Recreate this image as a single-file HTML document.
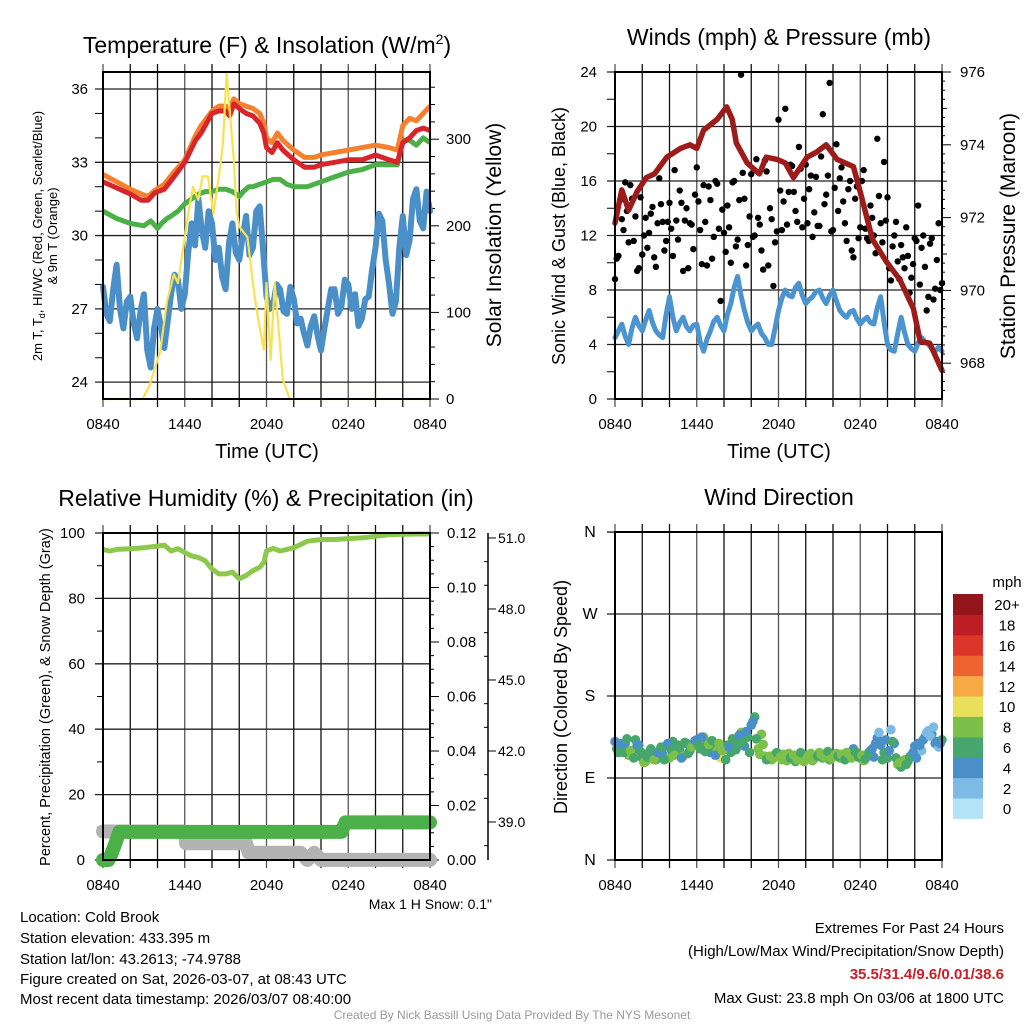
<!DOCTYPE html>
<html><head><meta charset="utf-8"><style>
html,body{margin:0;padding:0;background:#fff;}
svg{display:block;font-family:"Liberation Sans",sans-serif;}
text{fill:#000;}
</style></head><body>
<svg id="chart" width="1024" height="1024" viewBox="0 0 1024 1024" xmlns="http://www.w3.org/2000/svg">
<rect x="0" y="0" width="1024" height="1024" fill="#fff"/>
<g id="p1"></g>
<g id="p2"></g>
<g id="p3"></g>
<g id="p4"></g>
<g id="txt" font-size="15">
<text x="267" y="53" font-size="23" text-anchor="middle">Temperature (F) &amp; Insolation (W/m<tspan dy="-9" font-size="14">2</tspan><tspan dy="9">)</tspan></text>
<text x="779" y="45" font-size="23" text-anchor="middle">Winds (mph) &amp; Pressure (mb)</text>
<text x="266" y="506" font-size="23" text-anchor="middle">Relative Humidity (%) &amp; Precipitation (in)</text>
<text x="779" y="505" font-size="23" text-anchor="middle">Wind Direction</text>
<text x="267" y="458" font-size="20" text-anchor="middle">Time (UTC)</text>
<text x="779" y="458" font-size="20" text-anchor="middle">Time (UTC)</text>
<text transform="translate(42,236) rotate(-90)" font-size="13" text-anchor="middle">2m T, T<tspan dy="3" font-size="9">d</tspan><tspan dy="-3">, HI/WC (Red, Green, Scarlet/Blue)</tspan></text>
<text transform="translate(57,236) rotate(-90)" font-size="13" text-anchor="middle">&amp; 9m T (Orange)</text>
<text transform="translate(501,235) rotate(-90)" font-size="21" text-anchor="middle">Solar Insolation (Yellow)</text>
<text transform="translate(565,236) rotate(-90)" font-size="18" text-anchor="middle">Sonic Wind &amp; Gust (Blue, Black)</text>
<text transform="translate(1015,236) rotate(-90)" font-size="21" text-anchor="middle">Station Pressure (Maroon)</text>
<text transform="translate(50,697) rotate(-90)" font-size="14.5" text-anchor="middle">Percent, Precipitation (Green), &amp; Snow Depth (Gray)</text>
<text transform="translate(567,697) rotate(-90)" font-size="18" text-anchor="middle">Direction (Colored By Speed)</text>
<text x="492" y="909" font-size="14" text-anchor="end" fill="#222">Max 1 H Snow: 0.1"</text>
<text x="20" y="922">Location: Cold Brook</text>
<text x="20" y="943">Station elevation: 433.395 m</text>
<text x="20" y="964">Station lat/lon: 43.2613; -74.9788</text>
<text x="20" y="984">Figure created on Sat, 2026-03-07, at 08:43 UTC</text>
<text x="20" y="1004">Most recent data timestamp: 2026/03/07 08:40:00</text>
<text x="1004" y="933" text-anchor="end">Extremes For Past 24 Hours</text>
<text x="1004" y="956" text-anchor="end">(High/Low/Max Wind/Precipitation/Snow Depth)</text>
<text x="1004" y="979" text-anchor="end" font-weight="bold" style="fill:#c8202a">35.5/31.4/9.6/0.01/38.6</text>
<text x="1004" y="1003" text-anchor="end">Max Gust: 23.8 mph On 03/06 at 1800 UTC</text>
<text x="512" y="1019" font-size="12" text-anchor="middle" style="fill:#999">Created By Nick Bassill Using Data Provided By The NYS Mesonet</text>
</g>
</svg>
<script>
// ===== data =====
const timeLabels = ["0840","1440","2040","0240","0840"];
const tempTicks = [24,27,30,33,36];
const solarTicks = [0,100,200,300];
const windTicks = [0,4,8,12,16,20,24];
const presTicks = [968,970,972,974,976];
const rhTicks = [0,20,40,60,80,100];
const precipTicks = [0.00,0.02,0.04,0.06,0.08,0.10,0.12];
const snowTicks = [39.0,42.0,45.0,48.0,51.0];
const dirLabels = ["N","E","S","W","N"];
const dirTicks = [0,90,180,270,360];
const cbLabels = ["0","2","4","6","8","10","12","14","16","18","20+"];
const cbColors = ["#b3e3f7","#7dbbe4","#4a8fc8","#47a66b","#7cc04a","#e8e05a","#f6a945","#ee6430","#dc3529","#bd1e26","#921619"];

const tT = [0,1,2,2.8,3.3,3.8,4.5,5.2,6,6.8,7.2,8,8.5,9,9.3,9.6,10,10.5,11,11.5,11.8,12,12.4,12.8,13.2,14,14.8,15.5,16,17,18,19,20,21,21.6,22,22.5,23,23.5,24];
const redT = [32.2,31.95,31.7,31.45,31.45,31.75,31.9,32.4,33.0,33.9,34.2,35.0,35.1,35.1,34.9,35.4,35.2,35.0,34.9,34.6,34.2,33.6,33.4,33.8,33.5,33.1,32.8,32.8,32.9,33.0,33.1,33.1,33.3,33.1,33.0,33.8,34.0,34.3,34.4,34.3];
const orangeT = [32.5,32.2,31.9,31.7,31.6,31.85,32.1,32.6,33.1,34.1,34.5,35.1,35.3,35.3,35.2,35.6,35.4,35.3,35.2,35.0,34.6,34.0,33.8,34.2,33.9,33.5,33.2,33.2,33.3,33.4,33.5,33.6,33.7,33.6,33.5,34.5,34.8,34.7,35.0,35.3];
const gT = [0,1,2,3,3.5,4,4.3,4.7,5,5.5,6,6.5,7,7.5,8,8.5,9,9.5,10,10.3,10.7,11,12,12.5,13,13.5,14,15,16,17,18,19,20,21,21.6,22,22.5,23,23.5,24];
const greenT = [31.0,30.7,30.5,30.4,30.6,30.3,30.5,30.7,30.8,31.0,31.3,31.5,31.7,31.8,31.8,31.9,31.9,31.8,31.6,31.8,32.0,32.0,32.2,32.3,32.3,32.1,32.0,32.0,32.2,32.4,32.6,32.7,32.9,32.9,32.9,33.9,33.9,33.7,34.0,33.8];
const blueT = [27.9,26.8,26.5,27.8,28.8,27.0,26.2,27.3,27.5,26.4,
25.8,26.9,27.6,25.3,24.6,26.2,27.0,26.3,25.4,26.5,
27.6,28.4,28.2,27.0,27.6,29.3,30.5,29.6,31.5,30.2,
29.5,31.0,30.5,29.0,29.5,28.3,27.8,29.7,30.5,29.3,
29.0,30.0,30.8,29.2,29.5,31.0,31.2,29.4,27.5,27.0,
27.2,28.0,27.8,26.9,26.8,27.9,27.4,26.4,26.6,26.0,
25.5,26.3,26.7,25.9,25.3,26.2,27.0,27.8,27.8,26.8,
27.1,28.2,28.0,27.0,27.6,26.3,26.6,27.4,27.5,28.6,
29.5,30.9,30.6,29.0,28.0,26.8,27.3,29.5,30.8,29.2,
29.8,31.5,31.9,30.6,30.3,31.8,31.0];
const solarH = [0,2.9,3.4,4.2,4.7,5.2,5.5,5.9,6.3,6.6,7.0,7.3,7.7,8.1,8.6,8.8,9.07,9.3,9.6,9.8,10,10.6,11.1,11.4,11.8,12,12.3,12.6,13.2,13.7,24];
const solarV = [0,0,15,55,113,144,134,176,218,245,230,257,257,214,268,295,376,334,276,218,199,187,122,91,57,134,45,134,22,0,0];

const windV = [4.5,5.0,5.5,4.6,4,5.2,6,5.4,5,5.8,
6.5,5.6,5,4.7,4.5,6.2,7.5,6.0,5,5.6,
6,5.3,5,5.4,5.5,4.2,3.5,4.4,5,5.7,
6,5.4,5,6.2,7,8.2,9,7.6,6.5,5.6,
5,5.3,5.5,4.8,4.5,4.0,4,5.2,6.5,7.4,
8,7.6,7.5,8.2,8.5,7.6,7,7.3,7.5,7.9,
8,7.4,7,7.6,8,7.2,6.5,6.2,6,6.4,
6.5,5.9,5.5,5.8,6,5.6,5.5,6.7,7.5,5.6,
4,3.6,3.5,4.8,6,4.9,4,3.7,3.5,4.1,
4.5,4.2,4,3.7,3.5,3.8,3.5];
const gustV = [8.8,10.5,13.2,15.9,11.5,14.7,13.4,9.6,10.6,13.3,12.2,14.1,
9.7,16.2,13.0,11.6,14.4,10.5,13.1,15.3,9.4,14.0,12.9,11.0,
17.0,12.4,15.7,9.8,14.6,11.9,15.8,7.2,12.2,14.2,10.0,16.0,
11.7,23.8,14.7,11.3,16.5,12.0,13.3,10.9,17.5,9.8,13.2,11.5,
20.5,12.4,21.3,15.2,17.1,13.8,18.5,12.6,17.2,15.4,11.9,16.3,
12.7,20.9,15.0,23.2,12.4,18.7,16.2,14.5,11.6,16.0,10.4,15.6,
12.6,16.8,11.8,14.2,12.0,19.1,12.9,17.4,14.8,8.7,12.0,10.1,
11.3,9.6,10.5,8.9,11.8,14.2,11.1,9.7,7.5,11.8,8.1,12.9,8.5];
const gustV2 = [10.3,14.6,12.4,13.8,15.7,11.6,9.4,14.8,12.0,11.1,13.6,10.4,
12.9,14.3,10.9,13.0,12.5,16.8,11.7,14.4,13.1,9.6,12.8,15.0,
14.5,9.9,13.0,15.6,10.3,16.0,12.5,13.9,10.8,12.6,15.9,11.2,
14.6,16.6,9.8,13.4,11.9,17.6,12.8,9.5,16.7,14.0,8.3,12.3,
15.3,14.5,12.8,17.2,15.2,13.0,16.9,14.7,12.9,16.4,13.7,12.7,
17.8,14.3,16.4,12.3,15.5,13.8,17.0,12.9,15.4,10.9,14.7,11.8,
16.0,12.5,11.6,13.3,10.7,14.9,11.5,13.1,9.6,11.2,13.0,8.8,
10.4,12.6,7.8,9.9,11.6,8.4,12.0,6.5,11.4,7.3,10.2,8.0];
const presH = [0,0.5,1.0,1.6,2.3,2.9,3.8,4.8,5.5,6.0,6.5,7.5,8.2,8.6,8.9,9.7,10.6,11.1,11.9,12.5,13.1,14.1,14.8,15.5,16.3,17.5,18.0,18.9,19.9,20.9,21.9,22.4,23.1,24];
const presV = [971.85,972.76,972.2,972.7,973.1,973.2,973.66,973.9,974.0,973.9,974.4,974.7,975.04,974.7,974.05,973.5,973.2,973.66,973.6,973.5,973.1,973.66,973.8,974.0,973.6,973.4,972.7,971.4,970.8,970.3,969.5,968.6,968.55,967.8];

const rhH = [0,0.5,1,2,3,4,4.5,5,5.5,6,6.5,7,7.5,8,8.5,9,9.5,10,10.5,11,11.5,11.8,12,12.5,13,13.5,14,15,16,17,18,19,20,21,22,23,24];
const rhV = [95,94.5,95,95.2,95.5,96,96.3,94.5,95.2,94,93,92.5,91.5,89,87.5,87.5,88,86,87,88.5,89.5,91,94.5,95.3,94.5,95,95.5,97.5,98,98,98.3,98.5,99,99.5,99.6,99.7,99.7];
const precipH = [0,0.4,0.6,0.9,1.2,17.5,17.8,24];
const precipV = [0,0,0.002,0.006,0.0103,0.0103,0.0138,0.0138];
const snowH = [0,6,6.1,10.5,10.7,14.5,15,15.5,16,24];
const snowV = [38.6,38.6,38.1,38.1,37.7,37.7,37.4,37.7,37.4,37.4];

const dirV = [130,118,125,128,115,120,132,126,112,108,118,115,
110,120,116,125,112,130,118,122,114,128,120,126,
132,122,135,128,118,124,120,112,122,126,118,130,
128,140,125,135,148,157,122,138,114,112,110,116,
115,110,113,117,112,108,114,116,111,115,109,113,
118,112,116,110,114,117,112,115,118,113,122,117,
112,109,115,120,113,134,126,118,112,143,128,105,
102,110,108,115,125,128,120,135,142,138,128,124,132];
const dirSpd = [4,5,6,4,7,6,5,4,6,7,6,5,
5,7,4,6,7,5,4,6,7,5,4,5,
4,5,7,6,4,5,7,9,8,6,5,4,
5,7,4,5,4,5,7,8,7,6,7,8,
8,7,6,8,7,6,8,7,6,7,8,6,
7,6,7,5,6,7,8,6,7,5,4,7,
6,7,8,5,4,3,4,5,6,2,4,7,
6,7,5,4,3,4,2,5,2,3,4,2,5];
const dirV2 = [122,128,118,133,120,112,126,119,107,113,122,110,
118,124,110,128,121,115,126,112,129,117,124,131,
126,135,119,127,131,115,128,120,110,124,133,121,
137,129,141,118,152,133,116,127,110,114,112,118,
113,116,109,112,115,110,118,108,113,117,111,114,
116,113,119,111,115,114,116,110,117,112,119,113,
115,111,118,122,128,140,110,132,120,130,112,107,
108,105,113,118,112,126,132,140,136,146,130,128];
const dirSpd2 = [5,4,6,5,7,6,4,5,7,6,5,7,
4,6,5,4,6,7,5,4,6,5,7,4,
5,4,6,7,5,4,8,7,5,4,6,5,
4,5,4,6,4,5,8,7,6,8,7,6,
7,8,7,6,8,7,6,8,7,8,7,6,
8,7,6,7,8,6,7,6,8,7,6,5,
7,6,5,4,4,2,6,3,4,5,6,7,
7,6,5,3,4,4,3,2,2,2,4,3];

// ===== axes =====
const NS="http://www.w3.org/2000/svg";
function mk(tag, attrs, parent){const e=document.createElementNS(NS,tag);for(const k in attrs)e.setAttribute(k,attrs[k]);parent.appendChild(e);return e;}
const xL = h => 103 + h*13.625;
const xR = h => 615 + h*13.625;
const yT = t => 89 + (36-t)*24.43;
const yS = s => 399 - s*0.866;
const yW = v => 399 - v*13.625;
const yP = p => 72 + (976-p)*36.4;
const yRH = r => 860 - r*3.27;
const yPr = p => 860 - p/0.12*327;
const ySn = d => 822 + (39-d)*23.67;
const yD = d => 860 - d*0.911;

function pathFrom(xs, ys){return xs.map((x,i)=>(i?"L":"M")+x.toFixed(1)+" "+ys[i].toFixed(1)).join(" ");}
function evenH(arr){const st=24/(arr.length-1);return arr.map((_,i)=>i*st);}

function frame(g, x0, x1, y0, y1, xf, nameP){
  for(let h=0;h<=24;h+=2){
    const gl=mk("line",{x1:xf(h),x2:xf(h),y1:y0-8,y2:y1+8,stroke:(h%6===0?"#555":"#111"),"stroke-width":1.3},g);
    
    
  }
  timeLabels.forEach((lab,i)=>{
    const t=mk("text",{x:xf(i*6),y:y1+30,"font-size":15,"text-anchor":"middle"},g);
    t.textContent=lab;
    
    
  });
}
function border(g,x0,x1,y0,y1,nameP){
  const r=mk("rect",{x:x0,y:y0,width:x1-x0,height:y1-y0,fill:"none",stroke:"#000","stroke-width":2},g);
  
  
}
function hgrid(g,x0,x1,y,nameP){
  const l=mk("line",{x1:x0-8,x2:x1,y1:y,y2:y,stroke:"#222","stroke-width":1.3},g);
  
  
}
function tickLabel(g,x,y,txt,anchor,nameP,fs){
  const t=mk("text",{x:x,y:y+5,"font-size":fs||15,"text-anchor":anchor},g);
  t.textContent=txt;
  
  
}
function rTick(g,x,y,len,nameP){
  const l=mk("line",{x1:x,x2:x+len,y1:y,y2:y,stroke:"#000","stroke-width":1},g);
  
  
}

// ===== Panel 1 =====
(function(){
  const g=document.getElementById("p1");
  frame(g,103,430,72,399,xL,"temp");
  tempTicks.forEach(t=>{hgrid(g,103,430,yT(t),"temp");tickLabel(g,88,yT(t),String(t),"end","temp-y-tick-label");});
  for(let t=24;t<=36;t++){ if(t%3) rTick(g,95,yT(t),8,"temp-minor-tick"); }
  solarTicks.forEach(s=>{rTick(g,430,yS(s),9,"solar-major-tick");tickLabel(g,446,yS(s),String(s),"start","solar-y-tick-label");});
  for(let s=20;s<=360;s+=20){ if(s%100) rTick(g,430,yS(s),5,"solar-minor-tick"); }
  const hh=evenH(blueT);
  const b=mk("path",{d:pathFrom(hh.map(xL),blueT.map(yT)),fill:"none",stroke:"#4a8fc7","stroke-width":6,"stroke-linejoin":"round","stroke-linecap":"round"},g);
  
  
  const gr=mk("path",{d:pathFrom(gT.map(xL),greenT.map(yT)),fill:"none",stroke:"#4bb048","stroke-width":5,"stroke-linejoin":"round"},g);
  
  
  const o=mk("path",{d:pathFrom(tT.map(xL),orangeT.map(yT)),fill:"none",stroke:"#f5812e","stroke-width":5,"stroke-linejoin":"round"},g);
  
  
  const r=mk("path",{d:pathFrom(tT.map(xL),redT.map(yT)),fill:"none",stroke:"#d7262b","stroke-width":5,"stroke-linejoin":"round"},g);
  
  
  const y=mk("path",{d:pathFrom(solarH.map(xL),solarV.map(yS)),fill:"none",stroke:"#fae24f","stroke-width":2.2,"stroke-linejoin":"round"},g);
  
  
  border(g,103,430,72,399,"temp");
})();

// ===== Panel 2 =====
(function(){
  const g=document.getElementById("p2");
  frame(g,615,942,72,399,xR,"wind");
  windTicks.forEach(v=>{hgrid(g,615,942,yW(v),"wind");tickLabel(g,597,yW(v),String(v),"end","wind-y-tick-label");});
  for(let v=2;v<24;v+=4) rTick(g,607,yW(v),8,"wind-minor-tick");
  presTicks.forEach(p=>{rTick(g,942,yP(p),9,"pressure-major-tick");tickLabel(g,960,yP(p),String(p),"start","pressure-y-tick-label");});
  for(let p=967.25;p<976;p+=0.25){ if(Math.abs(p%2)>0.01) rTick(g,942,yP(p),(p%1===0?5:3),"pressure-minor-tick"); }
  const hh=evenH(windV);
  const b=mk("path",{d:pathFrom(hh.map(xR),windV.map(yW)),fill:"none",stroke:"#4b94cf","stroke-width":5,"stroke-linejoin":"round","stroke-linecap":"round"},g);
  
  
  gustV.forEach((v,i)=>{
    const c=mk("circle",{cx:xR(i*0.25),cy:yW(v),r:3.2,fill:"#000"},g);
    
    
  });
  gustV2.forEach((v,i)=>{
    const c=mk("circle",{cx:xR(0.125+i*0.25),cy:yW(v),r:3.2,fill:"#000"},g);
    
    
  });
  const p=mk("path",{d:pathFrom(presH.map(xR),presV.map(yP)),fill:"none",stroke:"#9c1c1c","stroke-width":5.5,"stroke-linejoin":"round","stroke-linecap":"round"},g);
  
  
  border(g,615,942,72,399,"wind");
})();

// ===== Panel 3 =====
(function(){
  const g=document.getElementById("p3");
  frame(g,103,430,533,860,xL,"rh");
  rhTicks.forEach(v=>{hgrid(g,103,430,yRH(v),"rh");tickLabel(g,85,yRH(v),String(v),"end","rh-y-tick-label");});
  for(let v=10;v<100;v+=20) rTick(g,97,yRH(v),6,"rh-minor-tick");
  precipTicks.forEach(p=>{rTick(g,430,yPr(p),9,"precip-major-tick");tickLabel(g,447,yPr(p),p.toFixed(2),"start","precip-y-tick-label");});
  for(let p=0.005;p<0.12;p+=0.005){ rTick(g,430,yPr(p),4,"precip-minor-tick"); }
  const ax=mk("line",{x1:488,x2:488,y1:533,y2:860,stroke:"#000","stroke-width":1.5},g);
  
  
  snowTicks.forEach(d=>{rTick(g,488,ySn(d),8,"snow-major-tick");tickLabel(g,498,ySn(d),d.toFixed(1),"start","snow-y-tick-label",14);});
  for(let d=38;d<=51;d++){ if((d-39)%3) rTick(g,484,ySn(d),4,"snow-minor-tick"); }
  const s=mk("path",{d:pathFrom(snowH.map(xL),snowV.map(ySn)),fill:"none",stroke:"#b3b3b3","stroke-width":14,"stroke-linejoin":"round","stroke-linecap":"round"},g);
  
  
  const pr=mk("path",{d:pathFrom(precipH.map(xL),precipV.map(yPr)),fill:"none",stroke:"#4bb048","stroke-width":14,"stroke-linejoin":"round","stroke-linecap":"round"},g);
  
  
  const rh=mk("path",{d:pathFrom(rhH.map(xL),rhV.map(yRH)),fill:"none",stroke:"#8cc84b","stroke-width":5,"stroke-linejoin":"round"},g);
  
  
  border(g,103,430,533,860,"rh");
})();

// ===== Panel 4 =====
(function(){
  const g=document.getElementById("p4");
  frame(g,615,942,532,860,xR,"dir");
  dirTicks.forEach((d,i)=>{hgrid(g,615,942,yD(d),"dir");tickLabel(g,590,yD(d),dirLabels[i],"middle","dir-y-tick-label",16);});
  dirV.forEach((d,i)=>{
    const ci=Math.min(10,Math.round(dirSpd[i]/2));
    const c=mk("circle",{cx:xR(i*0.25),cy:yD(d),r:4.8,fill:cbColors[ci]},g);
    
    
  });
  dirV2.forEach((d,i)=>{
    const ci=Math.min(10,Math.round(dirSpd2[i]/2));
    const c=mk("circle",{cx:xR(0.125+i*0.25),cy:yD(d),r:4.8,fill:cbColors[ci]},g);
    
    
  });
  border(g,615,942,532,860,"dir");
  const mph=mk("text",{x:1007,y:587,"font-size":15,"text-anchor":"middle"},g);
  mph.textContent="mph";
  
  
  const bh=20.4;
  cbLabels.forEach((lab,i)=>{
    const yy=594+(10-i)*bh;
    const r=mk("rect",{x:953,y:yy,width:30,height:bh+0.5,fill:cbColors[i]},g);
    
    
    const t=mk("text",{x:1007,y:yy+bh/2+6,"font-size":15,"text-anchor":"middle"},g);
    t.textContent=lab;
    
    
  });
})();
</script>
</body></html>
